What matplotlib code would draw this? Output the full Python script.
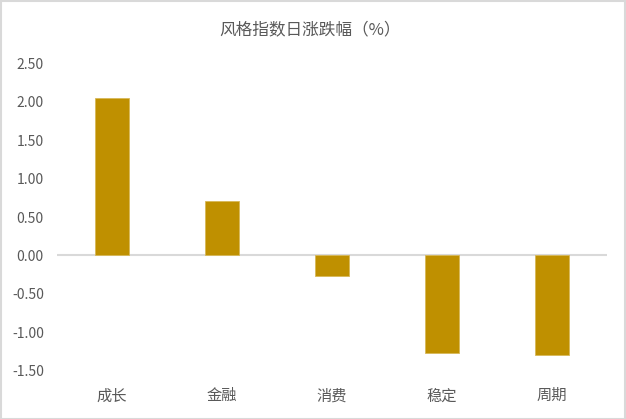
import matplotlib
matplotlib.use("Agg")
import matplotlib.pyplot as plt
from matplotlib.patches import Rectangle

plt.rcParams['font.family'] = ['Noto Sans CJK SC', 'DejaVu Sans']

categories = ['成长', '金融', '消费', '稳定', '周期']
values = [2.05, 0.71, -0.27, -1.27, -1.30]
yticks = [-1.5, -1.0, -0.5, 0.0, 0.5, 1.0, 1.5, 2.0, 2.5]
title = '风格指数日涨跌幅（%）'

fig = plt.figure(figsize=(6.26, 4.19), dpi=100)
ax = fig.add_axes([57/626, 1 - 370.7/419, 550/626, (370.7 - 63.3)/419])

x = list(range(len(categories)))
ax.bar(x, values, width=0.31, color='#BF9000', edgecolor='#D8B858', linewidth=0.6, zorder=2)
ax.axhline(0, color='#D9D9D9', linewidth=1.5, zorder=1)

ax.set_xlim(-0.5, len(categories) - 0.5)
ax.set_ylim(-1.5, 2.5)
ax.set_yticks(yticks)
ax.set_yticklabels([f'{v:.2f}' for v in yticks], fontsize=10, color='#595959')
ax.set_xticks(x)
ax.set_xticklabels(categories, fontsize=11, color='#595959')
ax.tick_params(axis='y', length=0, pad=9.5)
ax.tick_params(axis='x', length=0, pad=12)
for s in ax.spines.values():
    s.set_visible(False)

fig.text(310/626, 1 - 30/419, title, ha='center', va='center', fontsize=12, color='#595959')

fig.patches.append(Rectangle((0.001, 0.001), 0.997, 0.997, transform=fig.transFigure,
                             fill=False, edgecolor='#D9D9D9', linewidth=1.5))

fig.savefig('out.png', dpi=100, facecolor='white')
